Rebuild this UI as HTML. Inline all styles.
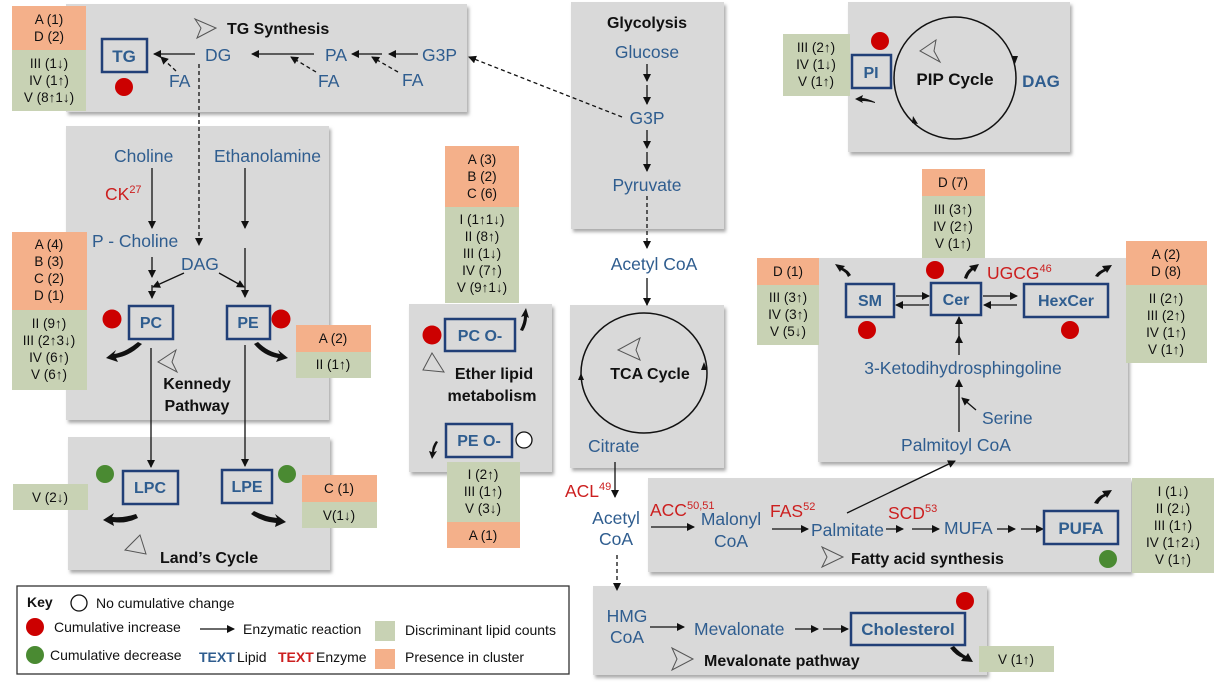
<!DOCTYPE html>
<html><head><meta charset="utf-8"><style>
html,body{margin:0;padding:0;background:#fff;}
svg{display:block;font-family:"Liberation Sans",sans-serif;}
.b{fill:#2f5d8f;font-size:17.5px;}
.r{fill:#cc1f1f;font-size:17.5px;}
.s{fill:#111;font-size:13.5px;text-anchor:middle;}
.t{fill:#111;font-size:16px;font-weight:bold;}
.g{fill:#d9d9d9;filter:url(#sh);}
.bx{fill:none;stroke:#213f77;stroke-width:2.5;}
.bl{fill:#2f5d8f;font-size:16px;font-weight:bold;text-anchor:middle;}
.ln{stroke:#111;stroke-width:1.3;fill:none;}
.ds{stroke:#111;stroke-width:1.3;fill:none;stroke-dasharray:4,3;}
.tri{fill:none;stroke:#555;stroke-width:1;}
.k{font-size:14px;fill:#111;}
</style></head><body>
<svg width="1224" height="688" viewBox="0 0 1224 688" xmlns="http://www.w3.org/2000/svg">
<defs>
<filter id="sh" x="-5%" y="-5%" width="110%" height="115%"><feDropShadow dx="2" dy="3" stdDeviation="1.5" flood-color="#888" flood-opacity="0.7"/></filter>
<marker id="a" markerWidth="8" markerHeight="8" refX="7" refY="4" orient="auto" markerUnits="userSpaceOnUse"><path d="M0,0 L8,4 L0,8 z" fill="#111"/></marker>
</defs>

<!-- gray boxes -->
<rect class="g" x="66" y="4" width="401" height="108"/>
<rect class="g" x="66" y="126" width="263" height="294"/>
<rect class="g" x="68" y="437" width="262" height="133"/>
<rect class="g" x="409" y="304" width="143" height="168"/>
<rect class="g" x="571" y="2" width="153" height="227"/>
<rect class="g" x="570" y="305" width="154" height="163"/>
<rect class="g" x="848" y="2" width="222" height="150"/>
<rect class="g" x="818" y="258" width="310" height="204"/>
<rect class="g" x="648" y="478" width="483" height="94"/>
<rect class="g" x="593" y="586" width="394" height="89"/>

<!-- TG synthesis -->
<rect x="12" y="6" width="74" height="44" fill="#f4b08a"/>
<rect x="12" y="50" width="74" height="61" fill="#c8d2b4"/>
<text class="s" x="49" y="24">A (1)</text><text class="s" x="49" y="41">D (2)</text>
<text class="s" x="49" y="68">III (1↓)</text><text class="s" x="49" y="85">IV (1↑)</text><text class="s" x="49" y="102">V (8↑1↓)</text>
<path class="tri" d="M195,19 L216,28 L197,38 L201,28 z"/>
<text class="t" x="227" y="34">TG Synthesis</text>
<rect class="bx" x="102" y="39" width="45" height="33"/>
<text class="bl" x="124" y="62" style="font-size:17px">TG</text>
<circle cx="124" cy="87" r="9" fill="#c00"/>
<text class="b" x="205" y="61">DG</text>
<line class="ln" x1="195" y1="54" x2="154" y2="54" marker-end="url(#a)"/>
<text class="b" x="169" y="87">FA</text>
<line class="ds" x1="176" y1="71" x2="161" y2="57" marker-end="url(#a)"/>
<text class="b" x="325" y="61">PA</text>
<line class="ln" x1="314" y1="54" x2="252" y2="54" marker-end="url(#a)"/>
<text class="b" x="318" y="87">FA</text>
<line class="ds" x1="316" y1="72" x2="291" y2="57" marker-end="url(#a)"/>
<text class="b" x="422" y="61">G3P</text>
<line class="ln" x1="418" y1="54" x2="389" y2="54" marker-end="url(#a)"/>
<line class="ln" x1="382" y1="54" x2="352" y2="54" marker-end="url(#a)"/>
<text class="b" x="402" y="86">FA</text>
<line class="ds" x1="398" y1="72" x2="372" y2="57" marker-end="url(#a)"/>
<line class="ds" x1="622" y1="117" x2="469" y2="57" marker-end="url(#a)"/>
<line class="ds" x1="199" y1="64" x2="199" y2="245" marker-end="url(#a)"/>

<!-- Kennedy -->
<text class="b" x="114" y="162">Choline</text>
<text class="b" x="214" y="162">Ethanolamine</text>
<text class="r" x="105" y="200">CK<tspan font-size="11" dy="-7">27</tspan></text>
<line class="ln" x1="152" y1="168" x2="152" y2="228" marker-end="url(#a)"/>
<line class="ln" x1="245" y1="168" x2="245" y2="228" marker-end="url(#a)"/>
<text class="b" x="92" y="247">P - Choline</text>
<text class="b" x="181" y="270">DAG</text>
<line class="ln" x1="152" y1="257" x2="152" y2="277" marker-end="url(#a)"/>
<line class="ln" x1="184" y1="273" x2="153" y2="287" marker-end="url(#a)"/>
<line class="ln" x1="219" y1="273" x2="244" y2="287" marker-end="url(#a)"/>
<line class="ln" x1="245" y1="248" x2="245" y2="297" marker-end="url(#a)"/>
<line class="ln" x1="152" y1="285" x2="152" y2="298" marker-end="url(#a)"/>
<rect x="12" y="232" width="75" height="78" fill="#f4b08a"/>
<rect x="12" y="310" width="75" height="80" fill="#c8d2b4"/>
<text class="s" x="49" y="249">A (4)</text><text class="s" x="49" y="266">B (3)</text><text class="s" x="49" y="283">C (2)</text><text class="s" x="49" y="300">D (1)</text>
<text class="s" x="49" y="328">II (9↑)</text><text class="s" x="49" y="345">III (2↑3↓)</text><text class="s" x="49" y="362">IV (6↑)</text><text class="s" x="49" y="379">V (6↑)</text>
<rect class="bx" x="129" y="306" width="44" height="33"/>
<text class="bl" x="151" y="328">PC</text>
<circle cx="112" cy="319" r="9.5" fill="#c00"/>
<rect class="bx" x="227" y="306" width="43" height="33"/>
<text class="bl" x="248" y="328">PE</text>
<circle cx="281" cy="319" r="9.5" fill="#c00"/>
<path d="M138,342 Q126,352 114,354 L116,350 L106,358 L118,362 L116,358 Q130,356 142,344 z" fill="#111"/>
<path d="M258,342 Q268,352 280,354 L278,350 L288,358 L276,362 L278,358 Q264,356 254,344 z" fill="#111"/>
<path class="tri" d="M176,350 L158,362 L177,372 L172,362 z"/>
<text class="t" x="197" y="389" text-anchor="middle">Kennedy</text>
<text class="t" x="197" y="411" text-anchor="middle">Pathway</text>
<line class="ln" x1="151" y1="348" x2="151" y2="467" marker-end="url(#a)"/>
<line class="ln" x1="245" y1="345" x2="245" y2="466" marker-end="url(#a)"/>
<rect x="296" y="325" width="75" height="27" fill="#f4b08a"/>
<rect x="296" y="352" width="75" height="26" fill="#c8d2b4"/>
<text class="s" x="333" y="343">A (2)</text><text class="s" x="333" y="369">II (1↑)</text>

<!-- Land's -->
<rect class="bx" x="123" y="471" width="55" height="33"/>
<text class="bl" x="150" y="493">LPC</text>
<circle cx="105" cy="474" r="9" fill="#4a8a32"/>
<rect class="bx" x="222" y="470" width="50" height="33"/>
<text class="bl" x="247" y="492">LPE</text>
<circle cx="287" cy="474" r="9" fill="#4a8a32"/>
<path d="M136,514 Q124,518 112,517 L114,513 L103,520 L114,526 L113,522 Q126,524 138,518 z" fill="#111"/>
<path d="M254,511 Q266,517 277,518 L275,514 L286,522 L275,527 L276,523 Q262,522 251,514 z" fill="#111"/>
<path class="tri" d="M140,535 L125,550 L146,554 z"/>
<text class="t" x="160" y="563">Land’s Cycle</text>
<rect x="13" y="484" width="75" height="26" fill="#c8d2b4"/>
<text class="s" x="50" y="502">V (2↓)</text>
<rect x="302" y="475" width="75" height="27" fill="#f4b08a"/>
<rect x="302" y="502" width="75" height="26" fill="#c8d2b4"/>
<text class="s" x="339" y="493">C (1)</text><text class="s" x="339" y="520">V(1↓)</text>

<!-- Ether -->
<rect x="445" y="146" width="74" height="61" fill="#f4b08a"/>
<rect x="445" y="207" width="74" height="96" fill="#c8d2b4"/>
<text class="s" x="482" y="164">A (3)</text><text class="s" x="482" y="181">B (2)</text><text class="s" x="482" y="198">C (6)</text>
<text class="s" x="482" y="224">I (1↑1↓)</text><text class="s" x="482" y="241">II (8↑)</text><text class="s" x="482" y="258">III (1↓)</text><text class="s" x="482" y="275">IV (7↑)</text><text class="s" x="482" y="292">V (9↑1↓)</text>
<rect class="bx" x="445" y="319" width="70" height="32"/>
<text class="bl" x="480" y="341">PC O-</text>
<circle cx="432" cy="335" r="9.5" fill="#c00"/>
<path d="M520,330 Q524,322 524,316 L521,317 L526,308 L529,318 L527,317 Q527,324 523,331 z" fill="#111"/>
<path class="tri" d="M432,353 L423,370 L444,372 z"/>
<text class="t" x="494" y="379" text-anchor="middle">Ether lipid</text>
<text class="t" x="492" y="401" text-anchor="middle">metabolism</text>
<rect class="bx" x="446" y="424" width="66" height="33"/>
<text class="bl" x="479" y="446">PE O-</text>
<circle cx="524" cy="440" r="8" fill="#fff" stroke="#111" stroke-width="1.3"/>
<path d="M436,441 Q432,446 432,452 L429,451 L432,459 L437,451 L434,452 Q435,447 438,442 z" fill="#111"/>
<rect x="447" y="462" width="73" height="60" fill="#c8d2b4"/>
<rect x="447" y="522" width="73" height="26" fill="#f4b08a"/>
<text class="s" x="483" y="479">I (2↑)</text><text class="s" x="483" y="496">III (1↑)</text><text class="s" x="483" y="513">V (3↓)</text>
<text class="s" x="483" y="540">A (1)</text>

<!-- Glycolysis -->
<text class="t" x="647" y="28" text-anchor="middle">Glycolysis</text>
<text class="b" x="647" y="58" text-anchor="middle">Glucose</text>
<line class="ln" x1="647" y1="64" x2="647" y2="81" marker-end="url(#a)"/>
<line class="ln" x1="647" y1="85" x2="647" y2="104" marker-end="url(#a)"/>
<text class="b" x="647" y="124" text-anchor="middle">G3P</text>
<line class="ln" x1="647" y1="130" x2="647" y2="148" marker-end="url(#a)"/>
<line class="ln" x1="647" y1="152" x2="647" y2="171" marker-end="url(#a)"/>
<text class="b" x="647" y="191" text-anchor="middle">Pyruvate</text>
<line class="ds" x1="647" y1="196" x2="647" y2="248" marker-end="url(#a)"/>
<text class="b" x="654" y="270" text-anchor="middle">Acetyl CoA</text>
<line class="ln" x1="647" y1="278" x2="647" y2="305" marker-end="url(#a)"/>

<!-- TCA -->
<ellipse cx="644" cy="373" rx="63" ry="60" fill="none" stroke="#111" stroke-width="1.5"/>
<path d="M704,362 l-3,-8 l6,0 z" fill="#111" transform="rotate(180 704 362)"/>
<path d="M581,373 l-3,7 l6,0 z" fill="#111"/>
<path class="tri" d="M640,338 L618,350 L640,360 L636,350 z"/>
<text class="t" x="650" y="379" text-anchor="middle">TCA Cycle</text>
<text class="b" x="588" y="452">Citrate</text>
<text class="r" x="565" y="497">ACL<tspan font-size="11" dy="-7">49</tspan></text>
<line class="ln" x1="615" y1="462" x2="615" y2="497" marker-end="url(#a)"/>
<text class="b" x="616" y="524" text-anchor="middle">Acetyl</text>
<text class="b" x="616" y="545" text-anchor="middle">CoA</text>
<line class="ds" x1="617" y1="555" x2="617" y2="590" marker-end="url(#a)"/>

<!-- PIP -->
<rect x="783" y="34" width="67" height="62" fill="#c8d2b4"/>
<text class="s" x="816" y="52">III (2↑)</text><text class="s" x="816" y="69">IV (1↓)</text><text class="s" x="816" y="86">V (1↑)</text>
<rect class="bx" x="852" y="55" width="39" height="33"/>
<text class="bl" x="871" y="78">PI</text>
<circle cx="880" cy="41" r="9" fill="#c00"/>
<circle cx="955" cy="78" r="61" fill="none" stroke="#111" stroke-width="1.5"/>
<path d="M1012,56 l6,0 l-3,8 z" fill="#111"/>
<path d="M912,123 l6,1 l-5,-8 z" fill="#111"/>
<path class="tri" d="M936,40 L920,51 L940,62 L934,51 z"/>
<text class="t" x="955" y="85" text-anchor="middle" style="font-size:17px">PIP Cycle</text>
<text class="bl" x="1041" y="87" style="font-size:17px">DAG</text>
<path d="M875,102 Q866,98 862,98 L863,95 L855,99 L863,103 L862,101 Q868,101 875,103 z" fill="#111"/>

<!-- Sphingolipids -->
<rect x="922" y="169" width="63" height="27" fill="#f4b08a"/>
<rect x="922" y="196" width="63" height="62" fill="#c8d2b4"/>
<text class="s" x="953" y="187">D (7)</text>
<text class="s" x="953" y="214">III (3↑)</text><text class="s" x="953" y="231">IV (2↑)</text><text class="s" x="953" y="248">V (1↑)</text>
<rect x="757" y="258" width="62" height="27" fill="#f4b08a"/>
<rect x="757" y="285" width="62" height="60" fill="#c8d2b4"/>
<text class="s" x="788" y="276">D (1)</text>
<text class="s" x="788" y="302">III (3↑)</text><text class="s" x="788" y="319">IV (3↑)</text><text class="s" x="788" y="336">V (5↓)</text>
<rect x="1126" y="241" width="81" height="44" fill="#f4b08a"/>
<rect x="1126" y="285" width="81" height="78" fill="#c8d2b4"/>
<text class="s" x="1166" y="259">A (2)</text><text class="s" x="1166" y="276">D (8)</text>
<text class="s" x="1166" y="303">II (2↑)</text><text class="s" x="1166" y="320">III (2↑)</text><text class="s" x="1166" y="337">IV (1↑)</text><text class="s" x="1166" y="354">V (1↑)</text>
<rect class="bx" x="846" y="284" width="48" height="33"/>
<text class="bl" x="870" y="306">SM</text>
<circle cx="867" cy="330" r="9" fill="#c00"/>
<rect class="bx" x="931" y="283" width="50" height="32"/>
<text class="bl" x="956" y="305">Cer</text>
<circle cx="935" cy="270" r="9" fill="#c00"/>
<rect class="bx" x="1024" y="284" width="84" height="33"/>
<text class="bl" x="1066" y="306">HexCer</text>
<circle cx="1070" cy="330" r="9" fill="#c00"/>
<line class="ln" x1="896" y1="296" x2="929" y2="296" marker-end="url(#a)"/>
<line class="ln" x1="929" y1="305" x2="896" y2="305" marker-end="url(#a)"/>
<line class="ln" x1="983" y1="296" x2="1017" y2="296" marker-end="url(#a)"/>
<line class="ln" x1="1017" y1="305" x2="984" y2="305" marker-end="url(#a)"/>
<text class="r" x="987" y="279">UGCG<tspan font-size="11" dy="-7">46</tspan></text>
<path d="M851,275 Q848,270 843,268 L845,266 L835,264 L840,272 L841,270 Q846,272 848,277 z" fill="#111"/>
<path d="M964,278 Q966,271 971,268 L969,266 L979,264 L975,272 L973,270 Q969,273 967,279 z" fill="#111"/>
<path d="M1095,276 Q1098,271 1104,269 L1102,266 L1112,265 L1107,273 L1106,271 Q1101,273 1098,277 z" fill="#111"/>
<line class="ln" x1="959" y1="355" x2="959" y2="336" marker-end="url(#a)"/>
<line class="ln" x1="959" y1="338" x2="959" y2="317" marker-end="url(#a)"/>
<text class="b" x="963" y="374" text-anchor="middle">3-Ketodihydrosphingoline</text>
<line class="ln" x1="959" y1="432" x2="959" y2="380" marker-end="url(#a)"/>
<line class="ln" x1="976" y1="410" x2="962" y2="398" marker-end="url(#a)"/>
<text class="b" x="982" y="424">Serine</text>
<text class="b" x="956" y="451" text-anchor="middle">Palmitoyl CoA</text>

<!-- Fatty acid synthesis -->
<text class="r" x="650" y="516">ACC<tspan font-size="11" dy="-7">50,51</tspan></text>
<text class="b" x="731" y="525" text-anchor="middle">Malonyl</text>
<text class="b" x="731" y="547" text-anchor="middle">CoA</text>
<line class="ln" x1="651" y1="527" x2="694" y2="527" marker-end="url(#a)"/>
<text class="r" x="770" y="517">FAS<tspan font-size="11" dy="-7">52</tspan></text>
<line class="ln" x1="772" y1="529" x2="808" y2="529" marker-end="url(#a)"/>
<text class="b" x="811" y="536">Palmitate</text>
<line class="ln" x1="847" y1="513" x2="955" y2="461" marker-end="url(#a)"/>
<text class="r" x="888" y="519">SCD<tspan font-size="11" dy="-7">53</tspan></text>
<line class="ln" x1="886" y1="529" x2="903" y2="529" marker-end="url(#a)"/>
<line class="ln" x1="912" y1="529" x2="939" y2="529" marker-end="url(#a)"/>
<text class="b" x="944" y="534">MUFA</text>
<line class="ln" x1="997" y1="529" x2="1015" y2="529" marker-end="url(#a)"/>
<line class="ln" x1="1021" y1="529" x2="1043" y2="529" marker-end="url(#a)"/>
<rect class="bx" x="1044" y="511" width="74" height="33"/>
<text class="bl" x="1081" y="534" style="font-size:17px">PUFA</text>
<circle cx="1108" cy="559" r="9" fill="#4a8a32"/>
<path d="M1094,503 Q1098,496 1104,494 L1102,491 L1112,490 L1107,498 L1106,496 Q1101,498 1098,504 z" fill="#111"/>
<path class="tri" d="M822,547 L843,557 L822,567 L827,557 z"/>
<text class="t" x="851" y="564">Fatty acid synthesis</text>
<rect x="1132" y="478" width="82" height="95" fill="#c8d2b4"/>
<text class="s" x="1173" y="496">I (1↓)</text><text class="s" x="1173" y="513">II (2↓)</text><text class="s" x="1173" y="530">III (1↑)</text><text class="s" x="1173" y="547">IV (1↑2↓)</text><text class="s" x="1173" y="564">V (1↑)</text>

<!-- Mevalonate -->
<text class="b" x="627" y="622" text-anchor="middle">HMG</text>
<text class="b" x="627" y="643" text-anchor="middle">CoA</text>
<line class="ln" x1="650" y1="627" x2="684" y2="627" marker-end="url(#a)"/>
<text class="b" x="694" y="635">Mevalonate</text>
<line class="ln" x1="795" y1="629" x2="818" y2="629" marker-end="url(#a)"/>
<line class="ln" x1="823" y1="629" x2="848" y2="629" marker-end="url(#a)"/>
<rect class="bx" x="851" y="613" width="114" height="32"/>
<text class="bl" x="908" y="635" style="font-size:17px">Cholesterol</text>
<circle cx="965" cy="601" r="9" fill="#c00"/>
<path d="M950,648 Q956,656 963,658 L961,661 L973,662 L968,653 L966,656 Q960,653 954,646 z" fill="#111"/>
<path class="tri" d="M672,648 L693,659 L672,670 L677,659 z"/>
<text class="t" x="704" y="666">Mevalonate pathway</text>
<rect x="979" y="646" width="75" height="26" fill="#c8d2b4"/>
<text class="s" x="1016" y="664">V (1↑)</text>

<!-- Key -->
<rect x="17" y="586" width="552" height="88" fill="#fff" stroke="#333" stroke-width="1.3"/>
<text x="27" y="607" style="font-size:14px;font-weight:bold;fill:#111">Key</text>
<circle cx="79" cy="603" r="8" fill="#fff" stroke="#111" stroke-width="1.3"/>
<text class="k" x="96" y="608">No cumulative change</text>
<circle cx="35" cy="627" r="9" fill="#c00"/>
<text class="k" x="54" y="632">Cumulative increase</text>
<line class="ln" x1="200" y1="629" x2="234" y2="629" marker-end="url(#a)"/>
<text class="k" x="243" y="634">Enzymatic reaction</text>
<rect x="375" y="621" width="20" height="20" fill="#c8d2b4"/>
<text class="k" x="405" y="635">Discriminant lipid counts</text>
<circle cx="35" cy="655" r="9" fill="#4a8a32"/>
<text class="k" x="50" y="660">Cumulative decrease</text>
<text x="199" y="662" style="font-size:14px;fill:#2f5d8f;font-weight:bold">TEXT</text>
<text class="k" x="237" y="662">Lipid</text>
<text x="278" y="662" style="font-size:14px;fill:#cc1f1f;font-weight:bold">TEXT</text>
<text class="k" x="316" y="662">Enzyme</text>
<rect x="375" y="649" width="20" height="20" fill="#f4b08a"/>
<text class="k" x="405" y="662">Presence in cluster</text>
</svg>
</body></html>
